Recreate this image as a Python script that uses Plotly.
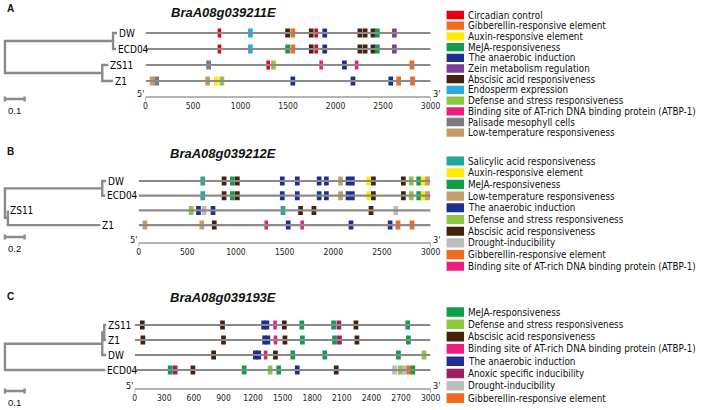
import plotly.graph_objects as go

W, H = 708, 410
FONT_C = "DejaVu Sans Condensed, Liberation Sans Narrow, sans-serif"
FONT_R = "Liberation Sans, Arial, sans-serif"

# ---------------- motif categories ----------------
NAMES = {
    "Circ": "Circadian control",
    "GA": "Gibberellin-responsive element",
    "Auxin": "Auxin-responsive element",
    "MeJA": "MeJA-responsiveness",
    "Anaer": "The anaerobic induction",
    "Zein": "Zein metabolism regulation",
    "ABA": "Abscisic acid responsiveness",
    "Endo": "Endosperm expression",
    "Def": "Defense and stress responsiveness",
    "Bind": "Binding site of AT-rich DNA binding protein (ATBP-1)",
    "Pal": "Palisade mesophyll cells",
    "LowT": "Low-temperature responsiveness",
    "Sal": "Salicylic acid responsiveness",
    "Drought": "Drought-inducibility",
    "Anoxic": "Anoxic specific inducibility",
}
COLORS = {
    "Circ": "#E60012", "GA": "#F26A1B", "Auxin": "#FFEC00", "MeJA": "#0E9F4B",
    "Anaer": "#1F2F8F", "Zein": "#7E3F98", "ABA": "#43220E", "Endo": "#29ABE2",
    "Def": "#8DC63F", "Bind": "#EC1C7C", "Pal": "#7B7B7B", "LowT": "#C69C6D",
    "Sal": "#20A89C", "Drought": "#BDBDBD", "Anoxic": "#9E1F63",
}

# ---------------- panel A ----------------
A_title = "BraA08g039211E"
A_leaves = ["DW", "ECD04", "ZS11", "Z1"]
A_tree = [(0.55, [(0.02, 0), (0.015, 1)]), (0.495, [(0.03, 2), (0.055, 3)])]
A_scale = 0.1
A_ticks = [0, 500, 1000, 1500, 2000, 2500, 3000]
A_legend = ["Circ", "GA", "Auxin", "MeJA", "Anaer", "Zein", "ABA", "Endo", "Def", "Bind", "Pal", "LowT"]
A_pos = [
    [778, 1104, 1495, 1550, 1744, 1796, 1886, 2256, 2311, 2394, 2439, 2619],
    [778, 1104, 1495, 1550, 1744, 1796, 1886, 2256, 2311, 2394, 2439, 2619],
    [664, 1291, 1346, 1848, 2093, 2221, 2803],
    [69, 118, 654, 744, 803, 1550, 2183, 2581, 2664, 2810],
]
A_type = [
    ["Circ", "Endo", "ABA", "GA", "ABA", "Circ", "Anaer", "ABA", "ABA", "ABA", "MeJA", "Zein"],
    ["Circ", "Endo", "MeJA", "GA", "ABA", "Circ", "Anaer", "ABA", "ABA", "ABA", "MeJA", "Zein"],
    ["Pal", "Circ", "Def", "Bind", "Anaer", "Bind", "GA"],
    ["LowT", "Pal", "LowT", "Auxin", "Def", "Anaer", "Anaer", "Anaer", "GA", "GA"],
]

# ---------------- panel B ----------------
B_title = "BraA08g039212E"
B_leaves = ["DW", "ECD04", "ZS11", "Z1"]
B_tree = [(0.99, [(0.04, 0), (0.03, 1)]), (0.03, [(0.0, 2), (0.94, 3)])]
B_scale = 0.2
B_ticks = [0, 500, 1000, 1500, 2000, 2500, 3000]
B_legend = ["Sal", "Auxin", "MeJA", "LowT", "Anaer", "Def", "ABA", "Drought", "GA", "Bind"]
B_pos = [
    [659, 878, 963, 1014, 1476, 1630, 1855, 1929, 2074, 2152, 2196, 2365, 2412, 2720, 2801, 2878, 2922, 2968],
    [659, 878, 963, 1014, 1476, 1630, 1855, 1929, 2074, 2152, 2196, 2365, 2412, 2720, 2801, 2878, 2922, 2968],
    [540, 615, 672, 764, 1483, 1664, 1801, 2388, 2642],
    [64, 649, 777, 1311, 1537, 1680, 2182, 2584, 2665, 2810],
]
B_type = [
    ["Sal", "ABA", "MeJA", "ABA", "Anaer", "Anaer", "Anaer", "Anaer", "LowT", "Anaer", "Anaer", "Auxin", "ABA", "ABA", "Def", "MeJA", "Auxin", "LowT"],
    ["Sal", "ABA", "MeJA", "ABA", "Anaer", "Anaer", "Anaer", "Anaer", "LowT", "Anaer", "Anaer", "Auxin", "ABA", "ABA", "Def", "MeJA", "Auxin", "LowT"],
    ["Def", "Anaer", "Drought", "Anaer", "Sal", "ABA", "ABA", "ABA", "Drought"],
    ["LowT", "LowT", "ABA", "Bind", "Anaer", "Bind", "Anaer", "Anaer", "GA", "GA"],
]

# ---------------- panel C ----------------
C_title = "BraA08g039193E"
C_leaves = ["ZS11", "Z1", "DW", "ECD04"]
C_tree = [(0.495, [(0.01, [(0.01, 0), (0.01, 1)]), (0.02, 2)]), (0.51, 3)]
C_scale = 0.1
C_ticks = [0, 300, 600, 900, 1200, 1500, 1800, 2100, 2400, 2700, 3000]
C_legend = ["MeJA", "Def", "ABA", "Bind", "Anaer", "Anoxic", "Drought", "GA"]
C_pos = [
    [77, 890, 1307, 1340, 1423, 1517, 1694, 2016, 2070, 2243, 2768],
    [83, 900, 1317, 1350, 1427, 1523, 1700, 2026, 2076, 2253, 2775],
    [800, 1223, 1257, 1327, 1427, 1603, 1927, 2674, 2933],
    [360, 410, 590, 1110, 1373, 1460, 1648, 2043, 2634, 2691, 2734, 2780, 2820],
]
C_type = [
    ["ABA", "ABA", "Anaer", "Anaer", "Bind", "ABA", "MeJA", "MeJA", "Anoxic", "ABA", "MeJA"],
    ["ABA", "ABA", "Anaer", "Anaer", "Bind", "ABA", "MeJA", "MeJA", "Anoxic", "ABA", "MeJA"],
    ["ABA", "Anaer", "Anaer", "Bind", "ABA", "MeJA", "MeJA", "MeJA", "Def"],
    ["MeJA", "Anoxic", "ABA", "MeJA", "Def", "MeJA", "Anaer", "ABA", "Drought", "Def", "Drought", "GA", "MeJA"],
]

GENE_LEN = 3000

# ---------------- layout geometry (pixels) ----------------
PANELS = [
    dict(letter="A", title=A_title, leaves=A_leaves, tree=A_tree, scale=A_scale, ticks=A_ticks,
         legend=A_legend, pos=A_pos, typ=A_type,
         letter_y=8, title_y=12, x0=146, r0=33, d=16, axis=97, top=4, bottom=118,
         ppu=200, sb_y=99, sb_lab=110, leg_y0=15, leg_d=10.7),
    dict(letter="B", title=B_title, leaves=B_leaves, tree=B_tree, scale=B_scale, ticks=B_ticks,
         legend=B_legend, pos=B_pos, typ=B_type,
         letter_y=151, title_y=153, x0=139, r0=181, d=14.7, axis=243, top=160, bottom=262,
         ppu=100, sb_y=237, sb_lab=248, leg_y0=161, leg_d=11.7),
    dict(letter="C", title=C_title, leaves=C_leaves, tree=C_tree, scale=C_scale, ticks=C_ticks,
         legend=C_legend, pos=C_pos, typ=C_type,
         letter_y=296, title_y=297, x0=135, r0=325, d=15, axis=389, top=303, bottom=410,
         ppu=200, sb_y=391, sb_lab=402, leg_y0=312, leg_d=12.3),
]
X_END = 436
TREE_ROOT_PX = 3
LEG_X0, LEG_BOX = 452, 18
LINE_GRAY = "#8A8A8A"


def ax_key(letter, n):
    return f"{letter}axis" if n == 1 else f"{letter}axis{n}"


def ax_ref(letter, n):
    return letter if n == 1 else f"{letter}{n}"


fig = go.Figure()
lay = {}
ann = []

for k, P in enumerate(PANELS):
    xt, xtr, xl = 3 * k + 1, 3 * k + 2, 3 * k + 3
    yp, yl = 2 * k + 1, 2 * k + 2
    d, r0 = P["d"], P["r0"]
    row = lambda py: (py - r0) / d

    # ---- axes ----
    lay[ax_key("y", yp)] = dict(domain=[1 - P["bottom"] / H, 1 - P["top"] / H],
                                range=[row(P["bottom"]), row(P["top"])], visible=False, fixedrange=True)
    lay[ax_key("x", xt)] = dict(domain=[P["x0"] / W, X_END / W], range=[0, GENE_LEN], anchor="free",
                                position=1 - (P["axis"] + 1) / H, showline=False, ticks="",
                                tickvals=P["ticks"], ticklabelstandoff=1,
                                tickfont=dict(family=FONT_C, size=8.5, color="#222222"),
                                showgrid=False, zeroline=False, fixedrange=True)
    ppu = P["ppu"]
    lay[ax_key("x", xtr)] = dict(domain=[0, 146 / W], range=[-TREE_ROOT_PX / ppu, (146 - TREE_ROOT_PX) / ppu],
                                 anchor=ax_ref("y", yp), visible=False, fixedrange=True)
    n_leg = len(P["legend"])
    lt = P["leg_y0"] - P["leg_d"] / 2
    lb = P["leg_y0"] + (n_leg - 0.5) * P["leg_d"]
    lay[ax_key("y", yl)] = dict(domain=[1 - lb / H, 1 - lt / H], range=[n_leg - 0.5, -0.5],
                                visible=False, fixedrange=True)
    lay[ax_key("x", xl)] = dict(domain=[LEG_X0 / W, 1], range=[0, (W - LEG_X0) / LEG_BOX],
                                anchor=ax_ref("y", yl), visible=False, fixedrange=True)

    # ---- gene track lines ----
    lx, ly = [], []
    for i in range(len(P["leaves"])):
        lx += [0, GENE_LEN, None]
        ly += [i, i, None]
    fig.add_trace(go.Scatter(x=lx, y=ly, mode="lines", line=dict(color=LINE_GRAY, width=2.2),
                             xaxis=ax_ref("x", xt), yaxis=ax_ref("y", yp), showlegend=False, hoverinfo="skip"))

    # ---- position axis line with end ticks ----
    ya = row(P["axis"])
    tk = 4 / d
    fig.add_trace(go.Scatter(x=[0, 0, GENE_LEN, GENE_LEN], y=[ya + tk, ya, ya, ya + tk], mode="lines",
                             line=dict(color="#6A6A6A", width=1),
                             xaxis=ax_ref("x", xt), yaxis=ax_ref("y", yp), showlegend=False, hoverinfo="skip"))

    # ---- motifs ----
    by, bx, bb, bc = [], [], [], []
    px_units = GENE_LEN / (X_END - P["x0"])
    for i, (plist, tlist) in enumerate(zip(P["pos"], P["typ"])):
        for p, t in zip(plist, tlist):
            w = (3.6 if t in ("Circ", "Bind") else 4.8) * px_units
            by.append(i); bx.append(w); bb.append(p - w / 2); bc.append(COLORS[t])
    fig.add_trace(go.Bar(y=by, x=bx, base=bb, orientation="h", width=9 / d,
                         marker=dict(color=bc, line=dict(width=0)),
                         xaxis=ax_ref("x", xt), yaxis=ax_ref("y", yp), showlegend=False, hoverinfo="skip"))

    # ---- tree ----
    tx, ty, leaves = [], [], []

    def rec(children, xnode):
        pts = []
        for bl, sub in children:
            xc = xnode + bl
            if isinstance(sub, int):
                yc = sub
                leaves.append((xc, yc))
            else:
                yc = rec(sub, xc)
            pts.append((xc, yc))
        first, last = pts[0], pts[-1]
        tx.extend([first[0], xnode, xnode, last[0], None])
        ty.extend([first[1], first[1], last[1], last[1], None])
        for xc, yc in pts[1:-1]:
            tx.extend([xnode, xc, None]); ty.extend([yc, yc, None])
        return (first[1] + last[1]) / 2

    rec(P["tree"], 0.0)
    sby = row(P["sb_y"])
    tks = 2.5 / d
    s = P["scale"]
    tx += [0, s, None, 0, 0, None, s, s, None]
    ty += [sby, sby, None, sby - tks, sby + tks, None, sby - tks, sby + tks, None]
    fig.add_trace(go.Scatter(x=tx, y=ty, mode="lines", line=dict(color=LINE_GRAY, width=2.4),
                             xaxis=ax_ref("x", xtr), yaxis=ax_ref("y", yp), showlegend=False, hoverinfo="skip"))
    for xc, yc in leaves:
        ann.append(dict(x=xc, y=yc, xref=ax_ref("x", xtr), yref=ax_ref("y", yp), text=P["leaves"][yc],
                        showarrow=False, xanchor="left", yanchor="middle", xshift=0,
                        font=dict(family=FONT_C, size=10, color="#000000")))
    ann.append(dict(x=s / 2, y=row(P["sb_lab"]), xref=ax_ref("x", xtr), yref=ax_ref("y", yp), text=f"{s}",
                    showarrow=False, xanchor="center", yanchor="middle",
                    font=dict(family=FONT_R, size=9.5, color="#111111")))

    # ---- 5' / 3' ----
    ya5 = row(P["axis"] - 3)
    ann.append(dict(x=0, y=ya5, xref=ax_ref("x", xt), yref=ax_ref("y", yp), text="5'", showarrow=False,
                    xanchor="right", yanchor="middle", xshift=0, font=dict(family=FONT_C, size=9, color="#111")))
    ann.append(dict(x=GENE_LEN, y=ya5, xref=ax_ref("x", xt), yref=ax_ref("y", yp), text="3'", showarrow=False,
                    xanchor="left", yanchor="middle", xshift=0, font=dict(family=FONT_C, size=9, color="#111")))

    # ---- legend ----
    li = list(range(n_leg))
    fig.add_trace(go.Bar(y=li, x=[1] * n_leg, base=[0] * n_leg, orientation="h", width=0.78,
                         marker=dict(color=[COLORS[c] for c in P["legend"]], line=dict(width=0)),
                         xaxis=ax_ref("x", xl), yaxis=ax_ref("y", yl), showlegend=False, hoverinfo="skip"))
    for i, c in enumerate(P["legend"]):
        ann.append(dict(x=20.5 / LEG_BOX, y=i, xref=ax_ref("x", xl), yref=ax_ref("y", yl), text=NAMES[c],
                        showarrow=False, xanchor="left", yanchor="middle",
                        font=dict(family=FONT_C, size=9.8, color="#111111")))

    # ---- title and panel letter ----
    ann.append(dict(x=225 / W, y=1 - P["title_y"] / H, xref="paper", yref="paper",
                    text=f"<b><i>{P['title']}</i></b>", showarrow=False, xanchor="center", yanchor="middle",
                    font=dict(family=FONT_R, size=13, color="#111111")))
    ann.append(dict(x=3 / W, y=1 - P["letter_y"] / H, xref="paper", yref="paper",
                    text=f"<b>{P['letter']}</b>", showarrow=False, xanchor="left", yanchor="middle",
                    font=dict(family=FONT_R, size=10, color="#111111")))

fig.update_layout(width=W, height=H, margin=dict(l=0, r=0, t=0, b=0), paper_bgcolor="white",
                  plot_bgcolor="rgba(0,0,0,0)", barmode="overlay", showlegend=False, annotations=ann,
                  hovermode=False, **lay)
fig.write_html("out.html", config={"displayModeBar": False, "staticPlot": True},
               post_script="document.body.style.margin='0';document.body.style.overflow='hidden';")
